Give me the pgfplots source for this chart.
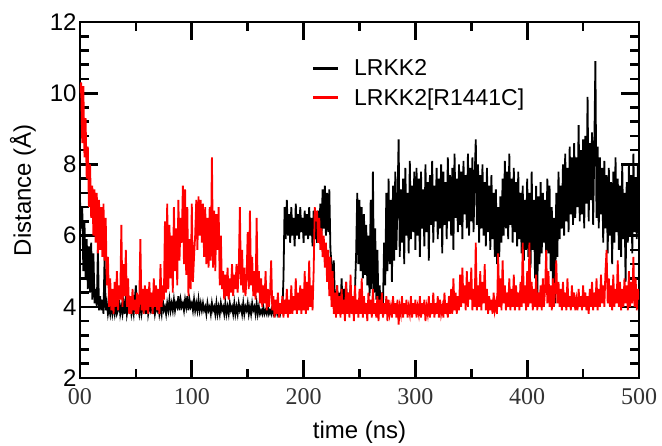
\documentclass[border=0pt]{standalone}
\usepackage{pgfplots}
\pgfplotsset{compat=1.18}
\usepackage{fontspec}
\setmainfont{Liberation Sans}
\newfontfamily\serifx{Liberation Serif}
\begin{document}
\begin{tikzpicture}
\useasboundingbox (-80pt,-67pt) rectangle (582pt,378pt);
\begin{axis}[
  scale only axis, width=559pt, height=356pt,
  xmin=0, xmax=500, ymin=2, ymax=12,
  xtick={0,100,200,300,400,500},
  xticklabels={{\serifx 00},{\serifx 100},{\serifx 200},{\serifx 300},{\serifx 400},{\serifx 500}},
  ytick={2,4,6,8,10,12},
  yticklabels={2,4,6,8,10,12},
  minor x tick num=1, minor y tick num=4,
  tick align=inside,
  major tick length=18pt, minor tick length=9pt,
  tick style={line width=2.6pt, black},
  axis line style={line width=2.6pt},
  xticklabel style={font=\serifx\fontsize{24}{28}\selectfont, yshift=-7pt, text=black!80},
  yticklabel style={font=\fontsize{24}{28}\selectfont},
  xlabel={time (ns)}, ylabel={Distance (Å)},
  xlabel style={font=\fontsize{24}{28}\selectfont, at={(axis description cs:0.5,-0.152)}, anchor=center},
  ylabel style={font=\fontsize{24}{28}\selectfont, at={(axis description cs:-0.102,0.528)}, anchor=center},
  legend style={draw=none, fill=none, inner sep=0pt, at={(axis description cs:0.415,0.90)}, anchor=north west,
    font=\fontsize{23}{27}\selectfont, row sep=7pt, nodes={inner sep=2pt}},
  legend cell align=left,
  legend image code/.code={\draw[#1, line width=2.2pt] (0pt,0pt) -- (25pt,0pt); \path (38pt,0pt);},
]
\addplot[black, line width=1.8pt] coordinates {
(0,7.0)(1,6.2)(2,6.8)(3,5.0)(4,6.4)(5,4.8)(6,5.9)(7,4.5)(8,5.7)(9,4.4)
(10,5.8)(11,4.2)(12,5.5)(13,4.1)(14,4.5)(15,4.0)(16,5.6)(17,3.9)(18,4.3)(19,3.9)
(20,4.2)(21,3.8)(22,5.4)(23,3.9)(24,4.1)(25,3.8)(26,4.0)(27,3.8)(28,4.1)(29,3.8)
(30,4.0)(31,3.8)(32,4.1)(33,3.8)(34,3.9)(35,4.2)(36,3.8)(37,4.0)(38,3.8)(39,4.1)
(40,3.8)(41,4.3)(42,3.8)(43,4.0)(44,3.9)(45,4.1)(46,3.8)(47,4.0)(48,3.8)(49,4.2)
(50,4.6)(51,3.9)(52,4.0)(53,3.8)(54,4.1)(55,3.8)(56,4.0)(57,3.9)(58,4.1)(59,3.8)
(60,4.3)(61,3.8)(62,4.0)(63,3.9)(64,4.2)(65,3.8)(66,4.1)(67,3.8)(68,4.0)(69,3.9)
(70,4.1)(71,3.8)(72,4.0)(73,3.8)(74,4.2)(75,3.9)(76,4.0)(77,3.8)(78,4.1)(79,3.9)
(80,4.2)(81,3.9)(82,4.1)(83,3.9)(84,4.2)(85,3.9)(86,4.1)(87,4.0)(88,4.3)(89,3.9)
(90,4.2)(91,4.0)(92,4.1)(93,3.9)(94,4.2)(95,4.0)(96,4.3)(97,3.9)(98,4.2)(99,4.0)
(100,4.1)(101,3.9)(102,4.2)(103,3.9)(104,4.1)(105,3.9)(106,4.2)(107,3.9)(108,4.1)(109,3.9)
(110,4.1)(111,3.9)(112,4.0)(113,3.8)(114,4.1)(115,3.9)(116,4.0)(117,3.8)(118,4.1)(119,3.9)
(120,4.0)(121,3.8)(122,4.1)(123,3.8)(124,4.0)(125,3.8)(126,4.1)(127,3.9)(128,4.0)(129,3.8)
(130,4.1)(131,3.8)(132,4.0)(133,3.8)(134,4.1)(135,3.9)(136,4.0)(137,3.8)(138,4.1)(139,3.8)
(140,4.0)(141,3.8)(142,4.1)(143,3.9)(144,4.0)(145,3.8)(146,4.1)(147,3.8)(148,4.0)(149,3.9)
(150,4.1)(151,3.8)(152,4.0)(153,3.8)(154,4.1)(155,3.9)(156,4.0)(157,3.8)(158,4.1)(159,3.8)
(160,4.0)(161,3.8)(162,3.9)(163,3.8)(164,4.0)(165,3.8)(166,3.9)(167,3.8)(168,4.0)(169,3.8)
(170,3.9)(171,3.8)(172,4.0)(173,3.8)(174,3.9)(175,3.8)(176,4.0)(177,3.8)(178,3.9)(179,3.8)
(180,4.0)(181,3.9)(182,4.8)(183,6.8)(184,5.9)(185,7.0)(186,6.0)(187,6.6)(188,5.8)(189,6.8)
(190,6.0)(191,6.5)(192,5.7)(193,6.9)(194,6.0)(195,6.6)(196,5.9)(197,6.8)(198,6.1)(199,6.5)
(200,5.8)(201,6.7)(202,6.0)(203,6.6)(204,5.9)(205,6.8)(206,6.0)(207,6.5)(208,5.7)(209,6.7)
(210,5.9)(211,6.6)(212,5.8)(213,6.7)(214,6.2)(215,6.9)(216,6.0)(217,7.3)(218,6.2)(219,7.4)
(220,6.0)(221,7.2)(222,6.1)(223,7.3)(224,5.6)(225,5.2)(226,4.5)(227,5.3)(228,4.2)(229,3.9)
(230,4.6)(231,3.8)(232,4.4)(233,3.9)(234,4.8)(235,3.8)(236,4.5)(237,4.0)(238,4.7)(239,3.9)
(240,4.4)(241,3.8)(242,4.6)(243,4.0)(244,4.3)(245,3.9)(246,4.5)(247,5.5)(248,7.2)(249,5.2)
(250,7.0)(251,5.0)(252,6.8)(253,4.8)(254,6.6)(255,4.9)(256,6.3)(257,4.6)(258,6.0)(259,4.3)
(260,7.0)(261,4.5)(262,7.8)(263,4.4)(264,6.2)(265,4.2)(266,5.6)(267,4.0)(268,4.6)(269,3.9)
(270,4.4)(271,4.0)(272,5.8)(273,4.6)(274,7.2)(275,5.0)(276,7.6)(277,5.2)(278,7.0)(279,4.7)
(280,7.4)(281,5.3)(282,7.8)(283,5.6)(284,7.0)(285,8.7)(286,5.4)(287,7.3)(288,5.8)(289,7.6)
(290,5.2)(291,7.9)(292,6.0)(293,7.2)(294,5.5)(295,8.1)(296,5.9)(297,7.4)(298,6.1)(299,7.8)
(300,5.6)(301,7.9)(302,6.0)(303,7.6)(304,5.4)(305,7.8)(306,6.2)(307,7.3)(308,5.7)(309,8.0)
(310,6.1)(311,7.5)(312,5.3)(313,7.7)(314,6.3)(315,8.1)(316,5.8)(317,7.4)(318,6.4)(319,7.9)
(320,5.9)(321,7.6)(322,6.2)(323,8.0)(324,5.5)(325,7.8)(326,6.3)(327,7.5)(328,5.9)(329,8.2)
(330,6.4)(331,7.7)(332,6.0)(333,7.9)(334,5.6)(335,8.3)(336,6.5)(337,7.6)(338,6.1)(339,8.0)
(340,6.3)(341,7.8)(342,5.9)(343,8.1)(344,6.6)(345,7.7)(346,6.2)(347,8.3)(348,6.0)(349,7.9)
(350,6.4)(351,8.2)(352,6.1)(353,7.6)(354,8.7)(355,6.3)(356,8.0)(357,5.8)(358,7.7)(359,6.2)
(360,8.0)(361,6.0)(362,7.5)(363,5.7)(364,7.9)(365,6.1)(366,7.4)(367,5.6)(368,7.7)(369,5.9)
(370,7.2)(371,5.4)(372,7.3)(373,5.2)(374,6.8)(375,5.4)(376,7.1)(377,5.8)(378,7.6)(379,6.0)
(380,8.1)(381,6.2)(382,7.8)(383,5.9)(384,8.3)(385,6.3)(386,7.6)(387,5.8)(388,7.9)(389,6.1)
(390,7.5)(391,5.7)(392,7.8)(393,5.9)(394,7.2)(395,5.5)(396,7.4)(397,5.3)(398,7.0)(399,5.6)
(400,7.6)(401,5.4)(402,7.2)(403,5.1)(404,7.8)(405,5.6)(406,7.0)(407,4.8)(408,7.4)(409,4.1)
(410,7.1)(411,5.2)(412,7.5)(413,5.5)(414,7.2)(415,5.8)(416,7.0)(417,5.3)(418,7.6)(419,5.5)
(420,7.4)(421,5.0)(422,6.8)(423,4.6)(424,6.5)(425,4.1)(426,7.2)(427,5.4)(428,7.8)(429,5.9)
(430,7.4)(431,6.2)(432,8.0)(433,6.0)(434,8.3)(435,6.4)(436,7.9)(437,6.1)(438,8.5)(439,6.6)
(440,8.2)(441,6.3)(442,8.6)(443,6.5)(444,8.2)(445,6.8)(446,9.1)(447,6.4)(448,8.4)(449,6.6)
(450,8.7)(451,6.2)(452,8.8)(453,6.9)(454,9.9)(455,6.4)(456,8.6)(457,7.0)(458,8.9)(459,6.3)
(460,8.4)(461,10.9)(462,6.5)(463,8.5)(464,6.2)(465,8.2)(466,6.6)(467,7.9)(468,5.8)(469,8.1)
(470,6.2)(471,7.7)(472,5.5)(473,7.9)(474,6.0)(475,7.5)(476,5.2)(477,7.8)(478,5.8)(479,8.2)
(480,6.1)(481,7.6)(482,5.6)(483,7.4)(484,5.4)(485,8.0)(486,5.9)(487,7.2)(488,4.7)(489,7.5)
(490,5.8)(491,8.0)(492,6.0)(493,7.7)(494,5.5)(495,8.3)(496,6.1)(497,7.6)(498,5.9)(499,8.0)
(500,6.4)
};
\addlegendentry{LRKK2}
\addplot[red, line width=1.8pt] coordinates {
(0,10.0)(1,10.3)(2,8.6)(3,10.2)(4,8.2)(5,9.3)(6,7.6)(7,8.5)(8,6.8)(9,8.0)
(10,6.5)(11,7.4)(12,6.0)(13,7.3)(14,5.8)(15,7.2)(16,5.5)(17,7.0)(18,5.6)(19,6.8)
(20,5.4)(21,6.9)(22,5.3)(23,6.5)(24,4.6)(25,5.4)(26,4.0)(27,4.8)(28,3.9)(29,4.5)
(30,3.8)(31,4.7)(32,4.0)(33,5.0)(34,3.9)(35,4.6)(36,4.2)(37,6.3)(38,4.0)(39,5.2)
(40,4.3)(41,5.6)(42,4.0)(43,4.8)(44,3.8)(45,4.3)(46,3.8)(47,4.5)(48,3.9)(49,4.2)
(50,3.8)(51,4.4)(52,3.8)(53,4.1)(54,5.9)(55,3.9)(56,4.5)(57,3.8)(58,4.6)(59,3.9)
(60,4.5)(61,3.8)(62,4.7)(63,4.0)(64,4.4)(65,3.8)(66,4.8)(67,4.0)(68,4.6)(69,3.9)
(70,4.5)(71,3.8)(72,5.2)(73,4.0)(74,4.6)(75,4.2)(76,6.4)(77,4.4)(78,6.9)(79,4.5)
(80,6.3)(81,4.8)(82,6.0)(83,4.4)(84,6.8)(85,5.0)(86,6.2)(87,4.6)(88,7.0)(89,5.3)
(90,6.5)(91,5.8)(92,7.4)(93,5.2)(94,7.3)(95,4.9)(96,6.8)(97,4.3)(98,5.9)(99,4.5)
(100,6.9)(101,4.7)(102,5.4)(103,6.0)(104,7.0)(105,5.6)(106,7.1)(107,6.0)(108,7.0)(109,5.8)
(110,6.9)(111,5.4)(112,6.8)(113,5.2)(114,6.5)(115,5.1)(116,6.8)(117,5.3)(118,8.2)(119,5.1)
(120,6.7)(121,5.0)(122,6.6)(123,5.6)(124,6.8)(125,4.6)(126,6.0)(127,4.5)(128,5.0)(129,4.2)
(130,4.9)(131,4.3)(132,5.1)(133,4.2)(134,4.8)(135,4.4)(136,5.2)(137,4.3)(138,4.9)(139,4.5)
(140,5.2)(141,4.4)(142,5.0)(143,6.8)(144,4.6)(145,5.6)(146,4.4)(147,5.1)(148,4.3)(149,4.8)
(150,6.1)(151,4.5)(152,6.7)(153,4.6)(154,5.4)(155,4.3)(156,5.0)(157,4.2)(158,6.5)(159,4.4)
(160,5.0)(161,4.1)(162,4.8)(163,4.0)(164,4.6)(165,4.1)(166,5.0)(167,3.9)(168,4.5)(169,4.0)
(170,4.4)(171,5.3)(172,3.9)(173,4.3)(174,3.7)(175,4.2)(176,3.8)(177,4.4)(178,3.7)(179,4.1)
(180,3.8)(181,4.3)(182,3.7)(183,4.2)(184,3.8)(185,4.5)(186,3.7)(187,4.2)(188,3.8)(189,4.6)
(190,3.8)(191,4.3)(192,3.9)(193,4.8)(194,3.8)(195,4.4)(196,3.9)(197,4.6)(198,3.8)(199,4.5)
(200,3.9)(201,5.0)(202,3.8)(203,4.7)(204,3.9)(205,5.3)(206,4.0)(207,4.6)(208,3.9)(209,5.0)
(210,6.8)(211,6.4)(212,6.7)(213,5.8)(214,6.5)(215,5.6)(216,6.2)(217,5.4)(218,6.0)(219,5.1)
(220,5.8)(221,4.7)(222,5.6)(223,4.3)(224,5.4)(225,4.0)(226,5.0)(227,3.8)(228,4.4)(229,3.7)
(230,4.6)(231,3.8)(232,4.3)(233,3.7)(234,4.5)(235,3.8)(236,4.2)(237,3.6)(238,4.7)(239,3.8)
(240,4.4)(241,3.7)(242,4.9)(243,3.8)(244,4.3)(245,3.6)(246,4.6)(247,3.8)(248,4.2)(249,3.7)
(250,4.5)(251,3.8)(252,4.8)(253,3.7)(254,4.3)(255,3.8)(256,4.1)(257,3.6)(258,4.4)(259,3.8)
(260,4.2)(261,3.7)(262,4.5)(263,3.8)(264,4.1)(265,3.7)(266,4.3)(267,3.6)(268,4.2)(269,3.8)
(270,4.4)(271,3.7)(272,4.1)(273,3.8)(274,4.3)(275,3.6)(276,4.2)(277,3.8)(278,4.0)(279,3.7)
(280,4.3)(281,3.8)(282,4.1)(283,3.7)(284,4.2)(285,3.5)(286,4.0)(287,3.8)(288,4.3)(289,3.7)
(290,4.1)(291,3.8)(292,4.2)(293,3.7)(294,4.0)(295,3.8)(296,4.3)(297,3.7)(298,4.1)(299,3.8)
(300,4.2)(301,3.7)(302,4.0)(303,3.8)(304,4.3)(305,3.7)(306,4.1)(307,3.8)(308,4.2)(309,3.6)
(310,4.0)(311,3.8)(312,4.3)(313,3.7)(314,4.1)(315,3.8)(316,4.4)(317,3.7)(318,4.1)(319,3.8)
(320,4.3)(321,3.7)(322,4.2)(323,3.8)(324,4.0)(325,3.7)(326,4.4)(327,3.8)(328,4.1)(329,3.7)
(330,4.3)(331,3.8)(332,4.5)(333,3.8)(334,4.8)(335,3.9)(336,4.4)(337,3.8)(338,4.3)(339,3.9)
(340,4.9)(341,4.0)(342,5.1)(343,4.1)(344,4.6)(345,3.9)(346,5.0)(347,4.0)(348,4.7)(349,4.2)
(350,5.1)(351,3.9)(352,4.5)(353,4.0)(354,5.8)(355,3.9)(356,4.6)(357,4.0)(358,5.0)(359,3.9)
(360,4.7)(361,4.1)(362,5.2)(363,3.9)(364,4.5)(365,3.8)(366,4.3)(367,3.9)(368,4.2)(369,3.8)
(370,4.4)(371,3.9)(372,4.1)(373,3.8)(374,5.5)(375,4.0)(376,4.8)(377,3.9)(378,5.3)(379,4.1)
(380,4.6)(381,3.9)(382,4.4)(383,4.0)(384,4.8)(385,3.9)(386,4.5)(387,4.0)(388,4.9)(389,3.9)
(390,4.6)(391,4.0)(392,4.4)(393,3.9)(394,4.7)(395,4.0)(396,5.8)(397,4.1)(398,4.6)(399,3.9)
(400,5.0)(401,4.0)(402,5.8)(403,4.1)(404,4.7)(405,3.9)(406,4.5)(407,4.0)(408,4.9)(409,3.9)
(410,4.4)(411,4.0)(412,4.6)(413,3.9)(414,4.8)(415,4.0)(416,4.5)(417,5.6)(418,4.1)(419,5.0)
(420,4.0)(421,4.6)(422,3.9)(423,4.8)(424,4.0)(425,4.5)(426,5.3)(427,4.1)(428,4.7)(429,4.0)
(430,4.5)(431,3.9)(432,4.7)(433,4.0)(434,4.4)(435,3.9)(436,4.8)(437,4.0)(438,4.3)(439,3.9)
(440,4.6)(441,4.0)(442,4.4)(443,3.9)(444,4.2)(445,3.9)(446,4.5)(447,4.0)(448,4.3)(449,3.9)
(450,4.6)(451,4.0)(452,4.4)(453,3.9)(454,4.3)(455,3.8)(456,4.5)(457,4.0)(458,4.7)(459,3.9)
(460,4.4)(461,4.0)(462,4.8)(463,3.9)(464,4.5)(465,4.0)(466,4.9)(467,4.1)(468,4.6)(469,4.0)
(470,5.0)(471,5.6)(472,4.1)(473,4.8)(474,4.0)(475,4.6)(476,3.9)(477,4.9)(478,4.0)(479,4.5)
(480,4.1)(481,5.3)(482,4.0)(483,4.7)(484,3.9)(485,4.5)(486,4.0)(487,4.8)(488,4.1)(489,4.6)
(490,3.9)(491,5.0)(492,4.0)(493,4.7)(494,4.1)(495,5.4)(496,4.0)(497,4.8)(498,3.9)(499,4.5)
(500,4.2)
};
\addlegendentry{LRKK2[R1441C]}
\end{axis}
\end{tikzpicture}
\end{document}
